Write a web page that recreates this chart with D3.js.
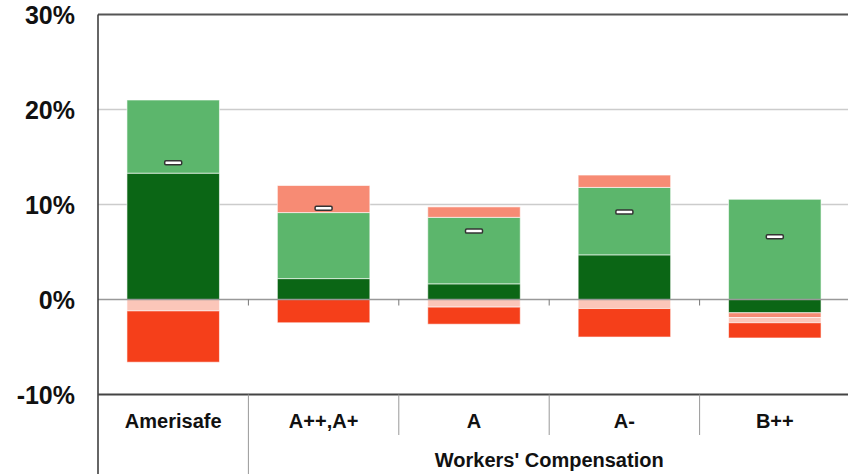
<!DOCTYPE html>
<html>
<head>
<meta charset="utf-8">
<script src="https://cdn.jsdelivr.net/npm/d3@7"></script>
<style>
  body { margin: 0; background: #fff; }
  text { font-family: "Liberation Sans", Arial, sans-serif; font-weight: bold; fill: #111; }
</style>
</head>
<body>
<div id="img"></div>
<script>
// categories and values (percent)
const categories = ["Amerisafe", "A++,A+", "A", "A-", "B++"];
const darkGreen  = [13.3, 2.2, 1.65, 4.7, -1.4];
const lightGreen = [7.7, 6.95, 7.0, 7.1, 10.55];
const salmon     = [0, 2.85, 1.1, 1.3, -0.5];
const pink       = [-1.2, 0, -0.8, -0.95, -0.55];
const red        = [-5.4, -2.45, -1.8, -3.0, -1.6];
const netValue   = [14.4, 9.6, 7.2, 9.2, 6.6];
const yTicks = [-10, 0, 10, 20, 30];
const groupLabel = "Workers' Compensation";

const keys = ["darkGreen", "lightGreen", "salmon", "pink", "red"];
const colors = {darkGreen: "#0b6615", lightGreen: "#5cb66c", salmon: "#f78b74", pink: "#fbc6b9", red: "#f53f1a"};

const rows = categories.map((c, i) => ({
    cat: c, darkGreen: darkGreen[i], lightGreen: lightGreen[i],
    salmon: salmon[i], pink: pink[i], red: red[i]
}));

const W = 848, H = 474;
const mar = {top: 14.5, left: 98, right: 850, bottom: 394.5};

var svg = d3.select("#img").append("svg")
    .attr("width", W)
    .attr("height", H);

var x = d3.scaleBand()
    .domain(categories)
    .range([mar.left, mar.right])
    .paddingInner(0)
    .paddingOuter(0);

var y = d3.scaleLinear()
    .domain([-10, 30])
    .range([mar.bottom, mar.top]);

var barW = x.bandwidth() * 0.615;

// grid lines
svg.append("g").selectAll("line")
    .data(yTicks.filter(d => d > 0 && d < 30))
    .enter().append("line")
    .attr("x1", mar.left).attr("x2", W)
    .attr("y1", d => y(d)).attr("y2", d => y(d))
    .attr("stroke", "#cccccc")
    .attr("stroke-width", 1.5);

// stacked bars
var stack = d3.stack()
    .keys(keys)
    .offset(d3.stackOffsetDiverging);

var series = stack(rows);

svg.append("g").selectAll("g")
    .data(series)
    .enter().append("g")
    .attr("fill", d => colors[d.key])
    .selectAll("rect")
    .data(d => d)
    .enter().append("rect")
    .attr("x", d => x(d.data.cat) + (x.bandwidth() - barW) / 2)
    .attr("width", barW)
    .attr("y", d => y(Math.max(d[0], d[1])))
    .attr("height", d => Math.abs(y(d[0]) - y(d[1])))
    .attr("stroke", "rgba(255,255,255,0.6)")
    .attr("stroke-width", 1);

// zero line
svg.append("line")
    .attr("x1", mar.left).attr("x2", W)
    .attr("y1", y(0)).attr("y2", y(0))
    .attr("stroke", "#999")
    .attr("stroke-width", 1.5);

// small ticks on zero line between groups
svg.append("g").selectAll("line")
    .data(categories.slice(1))
    .enter().append("line")
    .attr("x1", d => x(d)).attr("x2", d => x(d))
    .attr("y1", y(0)).attr("y2", y(0) + 6)
    .attr("stroke", "#777")
    .attr("stroke-width", 1);

// net markers
svg.append("g").selectAll("rect")
    .data(netValue)
    .enter().append("rect")
    .attr("x", (d, i) => x(categories[i]) + x.bandwidth() / 2 - 8.5)
    .attr("y", d => y(d) - 2)
    .attr("width", 17)
    .attr("height", 4)
    .attr("rx", 1.2)
    .attr("fill", "#fff")
    .attr("stroke", "#333")
    .attr("stroke-width", 1.5);

// frame: top, left, bottom
svg.append("line")
    .attr("x1", mar.left).attr("x2", W)
    .attr("y1", mar.top).attr("y2", mar.top)
    .attr("stroke", "#555").attr("stroke-width", 2);
svg.append("line")
    .attr("x1", mar.left).attr("x2", mar.left)
    .attr("y1", mar.top).attr("y2", H)
    .attr("stroke", "#333").attr("stroke-width", 1.5);
svg.append("line")
    .attr("x1", mar.left).attr("x2", W)
    .attr("y1", mar.bottom).attr("y2", mar.bottom)
    .attr("stroke", "#444").attr("stroke-width", 2);

// y labels
svg.append("g").selectAll("text")
    .data(yTicks)
    .enter().append("text")
    .attr("x", 75)
    .attr("y", d => y(d))
    .attr("dy", "0.36em")
    .attr("text-anchor", "end")
    .style("font-size", "25px")
    .text(d => d + "%");

// category separators below axis
svg.append("g").selectAll("line")
    .data(categories.slice(1))
    .enter().append("line")
    .attr("x1", d => x(d)).attr("x2", d => x(d))
    .attr("y1", mar.bottom)
    .attr("y2", (d, i) => i == 0 ? H : 435)
    .attr("stroke", "#999")
    .attr("stroke-width", 1);

// category labels
svg.append("g").selectAll("text")
    .data(categories)
    .enter().append("text")
    .attr("x", d => x(d) + x.bandwidth() / 2)
    .attr("y", 428)
    .attr("text-anchor", "middle")
    .style("font-size", "20px")
    .text(d => d);

// group label
svg.append("text")
    .attr("x", (x(categories[1]) + mar.right) / 2)
    .attr("y", 467)
    .attr("text-anchor", "middle")
    .style("font-size", "20px")
    .text(groupLabel);
</script>
</body>
</html>
